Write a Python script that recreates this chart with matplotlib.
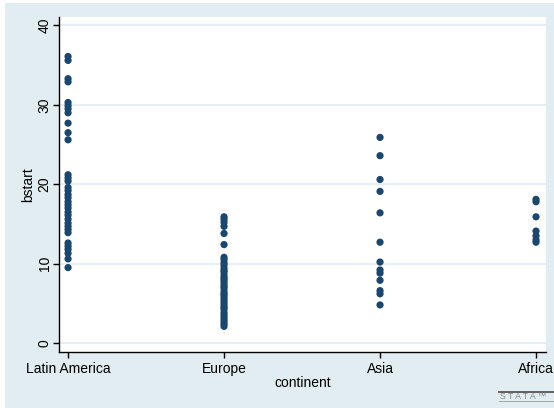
import matplotlib
matplotlib.use("Agg")
import matplotlib.pyplot as plt
from matplotlib.patches import Rectangle
from matplotlib.lines import Line2D

plt.rcParams['font.family'] = ['Liberation Sans', 'DejaVu Sans']

continents = ["Latin America", "Europe", "Asia", "Africa"]

latin_america = [36.1, 35.6, 33.3, 32.9, 30.3, 29.9, 29.5, 29.0, 27.7, 26.5,
                 25.6, 21.2, 20.8, 20.4, 19.6, 19.2, 18.7, 18.3, 17.8, 17.4,
                 17.0, 16.5, 16.1, 15.6, 15.1, 14.7, 14.3, 13.9, 12.6, 12.2,
                 11.8, 11.3, 10.6, 9.5]
europe = [15.9, 15.6, 15.2, 14.7, 13.8, 12.4, 10.8, 10.5, 10.1, 9.8,
          9.4, 9.1, 8.9, 8.5, 8.2, 8.0, 7.7, 7.4, 7.1, 6.9,
          6.5, 6.2, 6.0, 5.7, 5.4, 5.1, 4.8, 4.5, 4.3, 3.9,
          3.6, 3.3, 3.0, 2.7, 2.4, 2.1]
asia = [25.9, 23.6, 20.6, 19.1, 16.4, 12.7, 10.2, 9.2, 8.8, 7.9, 6.6, 6.2, 4.8]
africa = [18.1, 17.8, 15.9, 14.1, 13.5, 13.0, 12.7]

groups = [latin_america, europe, asia, africa]
y_ticks = [0, 10, 20, 30, 40]

navy = "#1A476F"
bg = "#E1EDF0"
grid = "#E4EEF1"

W, H = 554, 408
fig = plt.figure(figsize=(W / 100, H / 100), dpi=100, facecolor="white")

# light bluish graph region behind everything
fig.add_artist(Rectangle((5 / W, 0), (W - 5) / W, (H - 3) / H,
                         transform=fig.transFigure, facecolor=bg,
                         edgecolor="none", zorder=-10))

ax = fig.add_axes([59 / W, (H - 352) / H, (546 - 59) / W, (352 - 17) / H])
ax.set_facecolor("white")

for i, vals in enumerate(groups, start=1):
    ax.scatter([i] * len(vals), vals, s=27, color=navy, edgecolors="none",
               zorder=3, clip_on=False)

ax.set_xlim(0.942, 4.064)
ax.set_ylim(-1.13, 41.07)

ax.set_xticks(range(1, len(continents) + 1))
ax.set_xticklabels(continents, fontsize=10)
ax.set_yticks(y_ticks)
ax.set_yticklabels([str(t) for t in y_ticks], fontsize=10, rotation=90,
                   va="center")

ax.grid(axis="y", color=grid, linewidth=1.3, zorder=1)
ax.set_axisbelow(True)

for side in ["top", "right"]:
    ax.spines[side].set_visible(False)
for side in ["left", "bottom"]:
    ax.spines[side].set_color("black")
    ax.spines[side].set_linewidth(1.0)

ax.tick_params(axis="both", direction="out", length=4.5, width=1.0,
               colors="black")
ax.tick_params(axis="x", pad=3)
ax.tick_params(axis="y", pad=0.8)

ax.set_xlabel("continent", fontsize=10, labelpad=0)
ax.set_ylabel("bstart", fontsize=10, labelpad=1.5)

# small logo mark in the lower right corner
fig.add_artist(Line2D([499 / W, 1.0], [(H - 392) / H] * 2,
                      transform=fig.transFigure, color="#555555", lw=1.3))
fig.text(500 / W, (H - 396.8) / H, "S T A T A \u2122", fontsize=6.3,
         color="#888888", va="center", ha="left")
fig.add_artist(Line2D([499 / W, 1.0], [(H - 401) / H] * 2,
                      transform=fig.transFigure, color="#999999", lw=0.6))

fig.savefig("out.png", dpi=100, facecolor=fig.get_facecolor())
